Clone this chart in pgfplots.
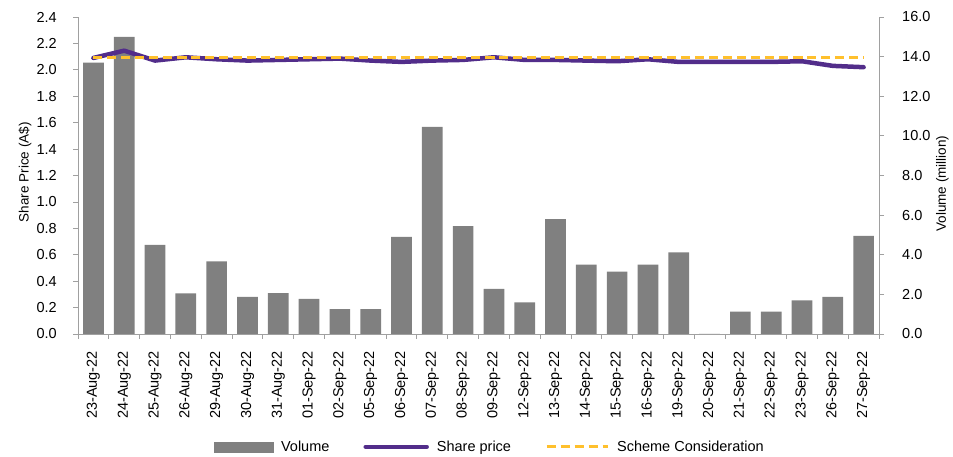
\documentclass[border=0pt]{standalone}
\usepackage{fontspec}
\setmainfont{Liberation Sans}
\usepackage{pgfplots}
\pgfplotsset{compat=1.18}
\usepackage{pgfplotstable}

\definecolor{barfill}{RGB}{128,128,128}
\definecolor{pricepurple}{RGB}{82,45,138}
\definecolor{schemeorange}{RGB}{255,192,44}
\definecolor{axisgrey}{RGB}{160,160,160}

% index, daily volume (million), closing share price (A$), scheme consideration (A$)
\pgfplotstableread{
idx vol price scheme
0  13.70 2.090 2.09
1  15.00 2.145 2.09
2  4.50  2.070 2.09
3  2.05  2.095 2.09
4  3.67  2.080 2.09
5  1.87  2.070 2.09
6  2.06  2.075 2.09
7  1.77  2.080 2.09
8  1.25  2.085 2.09
9  1.25  2.070 2.09
10 4.90  2.060 2.09
11 10.45 2.070 2.09
12 5.45  2.075 2.09
13 2.28  2.095 2.09
14 1.60  2.075 2.09
15 5.80  2.075 2.09
16 3.50  2.070 2.09
17 3.15  2.065 2.09
18 3.50  2.080 2.09
19 4.12  2.060 2.09
20 0.00  2.060 2.09
21 1.13  2.060 2.09
22 1.13  2.060 2.09
23 1.70  2.065 2.09
24 1.87  2.030 2.09
25 4.95  2.020 2.09
}\datatable

\pgfplotsset{
  common/.style={
    at={(78pt,123pt)}, anchor=south west,
    scale only axis, width=801pt, height=317pt,
    xmin=-0.5, xmax=25.5,
    tick align=outside,
    axis line style={draw=axisgrey, line width=0.8pt},
    tick style={draw=axisgrey, line width=0.8pt},
    major tick length=5pt, minor tick length=5pt,
    tick label style={font=\fontsize{14.5}{16}\selectfont},
    /pgf/number format/assume math mode=true,
    yticklabel style={/pgf/number format/fixed,
      /pgf/number format/fixed zerofill, /pgf/number format/precision=1},
    label style={font=\fontsize{13.5}{15}\selectfont},
  },
}

\begin{document}
\begin{tikzpicture}
\useasboundingbox (0,0) rectangle (953pt,457pt);

% volume bars on the right-hand scale
\begin{axis}[common,
  ymin=0, ymax=16, ytick={0,2,4,6,8,10,12,14,16},
  axis y line*=right, axis x line*=bottom,
  yticklabel style={anchor=west, inner sep=0pt, xshift=18pt},
  ybar, bar width=20.7pt,
  xtick={0,...,25},
  major x tick style={draw=none},
  minor xtick={-0.5,0.5,...,25.5},
  xticklabels={23-Aug-22,24-Aug-22,25-Aug-22,26-Aug-22,29-Aug-22,30-Aug-22,31-Aug-22,01-Sep-22,02-Sep-22,05-Sep-22,06-Sep-22,07-Sep-22,08-Sep-22,09-Sep-22,12-Sep-22,13-Sep-22,14-Sep-22,15-Sep-22,16-Sep-22,19-Sep-22,20-Sep-22,21-Sep-22,22-Sep-22,23-Sep-22,26-Sep-22,27-Sep-22},
  xticklabel style={rotate=90, anchor=east, inner sep=0pt},
  xticklabel shift=12pt,
  ylabel={Volume (million)},
  ylabel style={at={(axis description cs:1.079,0.474)}, anchor=center, rotate=0},
]
\addplot[fill=barfill, draw=none] table[x=idx, y=vol] {\datatable};
\end{axis}

% share price and scheme consideration on the left-hand scale
\begin{axis}[common,
  ymin=0, ymax=2.4,
  ytick={0,0.2,0.4,0.6,0.8,1.0,1.2,1.4,1.6,1.8,2.0,2.2,2.4},
  axis y line*=left, axis x line=none, xtick=\empty,
  yticklabel style={anchor=east, inner sep=0pt, xshift=-16pt},
  ylabel={Share Price (A\$)},
  ylabel style={at={(axis description cs:-0.0662,0.51)}, anchor=center},
  legend image code/.code={\draw[#1] (0pt,0pt) -- (61pt,0pt);},
  legend style={at={(axis description cs:0.514,-0.356)}, anchor=center,
    draw=none, fill=none, legend columns=3,
    font=\fontsize{14.5}{16}\selectfont,
    /tikz/every odd column/.append style={column sep=6pt},
    /tikz/every even column/.append style={column sep=32pt}},
]
\addlegendimage{legend image code/.code={\fill[barfill] (0pt,-5pt) rectangle (59pt,5pt);}}
\addlegendentry{Volume}
\addplot[color=pricepurple, line width=4.5pt, line join=round, line cap=round] table[x=idx, y=price] {\datatable};
\addlegendentry{Share price}
\addplot[color=schemeorange, line width=3pt, dash pattern=on 9pt off 5pt] table[x=idx, y=scheme] {\datatable};
\addlegendentry{Scheme Consideration}
\end{axis}
\end{tikzpicture}
\end{document}
